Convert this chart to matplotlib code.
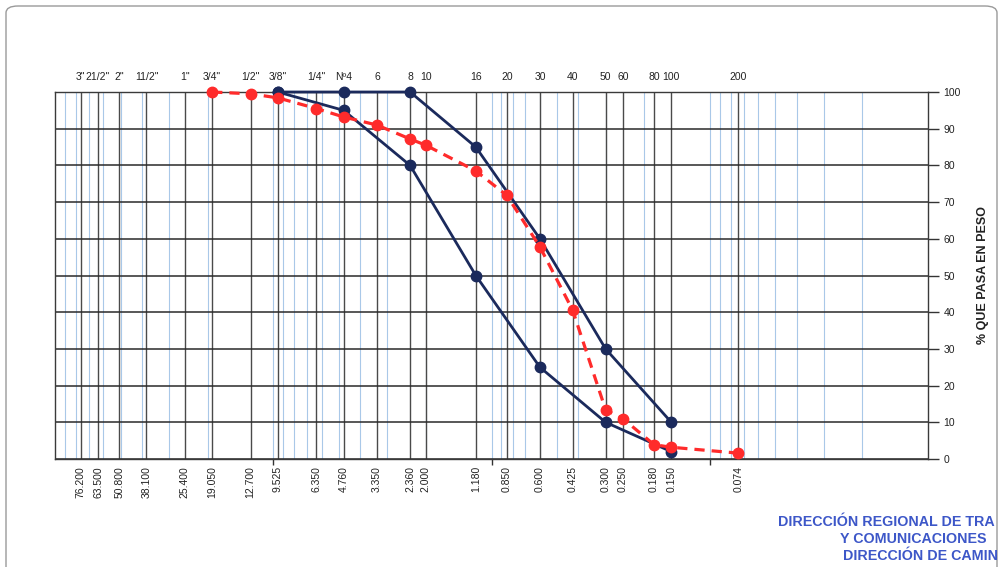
import matplotlib
matplotlib.use("Agg")
import matplotlib.pyplot as plt
from matplotlib.patches import FancyBboxPatch
import numpy as np

# ---------------- data ----------------
sieve_sizes = [76.2, 63.5, 50.8, 38.1, 25.4, 19.05, 12.7, 9.525, 6.35, 4.76,
               3.35, 2.36, 2.0, 1.18, 0.85, 0.6, 0.425, 0.3, 0.25, 0.18, 0.15, 0.074]
sieve_names = ['3"', '21/2"', '2"', '11/2"', '1"', '3/4"', '1/2"', '3/8"', '1/4"', 'Nº4',
               '6', '8', '10', '16', '20', '30', '40', '50', '60', '80', '100', '200']
size_labels = ['76.200', '63.500', '50.800', '38.100', '25.400', '19.050', '12.700',
               '9.525', '6.350', '4.760', '3.350', '2.360', '2.000', '1.180', '0.850',
               '0.600', '0.425', '0.300', '0.250', '0.180', '0.150', '0.074']

limit_sizes = [9.525, 4.76, 2.36, 1.18, 0.6, 0.3, 0.15]
upper_limit = [100, 100, 100, 85, 60, 30, 10]
lower_limit = [100, 95, 80, 50, 25, 10, 2]

sample_sizes = [19.05, 12.7, 9.525, 6.35, 4.76, 3.35, 2.36, 2.0, 1.18, 0.85,
                0.6, 0.425, 0.3, 0.25, 0.18, 0.15, 0.074]
sample_pass = [100, 99.5, 98.4, 95.5, 93.2, 91.0, 87.2, 85.5, 78.5, 71.8,
               57.8, 40.6, 13.4, 11.0, 3.9, 3.2, 1.6]

y_ticks = list(range(0, 101, 10))
decade_ticks = [10, 1, 0.1]

# ---------------- figure ----------------
plt.rcParams['font.family'] = ['Liberation Sans', 'DejaVu Sans']
fig = plt.figure(figsize=(10.01, 5.67), dpi=100)
W, H = 1001, 567

# page border (scanned sheet)
border = FancyBboxPatch((6 / W, -0.05), 991 / W, 1.0 - 6 / H + 0.05,
                        boxstyle="round,pad=0,rounding_size=0.012",
                        transform=fig.transFigure, fill=False,
                        edgecolor='#9a9a9a', lw=1.0)
fig.patches.append(border)

ax = fig.add_axes([55 / W, 1 - 459 / H, (928 - 55) / W, (459 - 92) / H])
ax.set_xscale('log')
ax.set_xlim(100, 0.01)
ax.set_ylim(0, 100)

# light-blue logarithmic grid
minor = []
for e in range(-2, 2):
    for m in range(1, 10):
        v = m * 10.0 ** e
        if 0.01 < v < 100:
            minor.append(v)
for v in minor:
    ax.axvline(v, color='#a9c8e8', lw=0.8, zorder=1)
# dark sieve lines
for v in sieve_sizes:
    ax.axvline(v, color='#4a4a4a', lw=1.0, zorder=2)
for v in y_ticks:
    ax.axhline(v, color='#2a2a2a', lw=1.1, zorder=2)

# curves
navy = '#1b2a5c'
ax.plot(limit_sizes, upper_limit, color=navy, lw=2.0, marker='o', ms=7.5,
        zorder=5, clip_on=False)
ax.plot(limit_sizes, lower_limit, color=navy, lw=2.0, marker='o', ms=7.5,
        zorder=5, clip_on=False)
ax.plot(sample_sizes, sample_pass, color='#ff2b2b', lw=2.3, ls=(0, (3.2, 2.2)),
        marker='o', ms=7.5, zorder=6, clip_on=False)

# bottom labels (sizes)
ax.set_xticks(sieve_sizes)
ax.set_xticklabels(size_labels, rotation=90, fontsize=7.5, va='top')
ax.set_xticks([], minor=True)
ax.tick_params(axis='x', which='both', length=0, pad=5, colors='#222222')

# decade tick marks under the axis
sec_b = ax.secondary_xaxis('bottom')
sec_b.set_xticks(decade_ticks)
sec_b.set_xticklabels([''] * len(decade_ticks))
sec_b.set_xticks([], minor=True)
sec_b.tick_params(axis='x', length=4, width=1, color='#333333', direction='out')
sec_b.spines['bottom'].set_visible(False)

# top labels (sieve names)
sec_t = ax.secondary_xaxis('top')
sec_t.set_xticks(sieve_sizes)
sec_t.set_xticklabels(sieve_names, fontsize=7.5)
sec_t.set_xticks([], minor=True)
sec_t.tick_params(axis='x', length=0, pad=7, colors='#222222')
sec_t.spines['top'].set_visible(False)

# right axis
ax.yaxis.tick_right()
ax.set_yticks(y_ticks)
ax.set_yticklabels([str(v) for v in y_ticks], fontsize=7.5)
ax.tick_params(axis='y', length=8, width=1, color='#333333', pad=3, colors='#222222')
ax.yaxis.set_label_position('right')
ax.set_ylabel('% QUE PASA EN PESO', fontsize=9, fontweight='bold', labelpad=12,
              color='#222222')

for s in ax.spines.values():
    s.set_color('#3a3a3a')
    s.set_linewidth(1.0)

# stamp text
stamp = '#3d57c8'
fig.text(778 / W, 1 - 522 / H, 'DIRECCIÓN REGIONAL DE TRA', color=stamp,
         fontsize=10.3, fontweight='bold', va='center', ha='left')
fig.text(840 / W, 1 - 539 / H, 'Y COMUNICACIONES', color=stamp,
         fontsize=10.3, fontweight='bold', va='center', ha='left')
fig.text(843 / W, 1 - 556 / H, 'DIRECCIÓN DE CAMIN', color=stamp,
         fontsize=10.3, fontweight='bold', va='center', ha='left')

fig.savefig('out.png', dpi=100)
